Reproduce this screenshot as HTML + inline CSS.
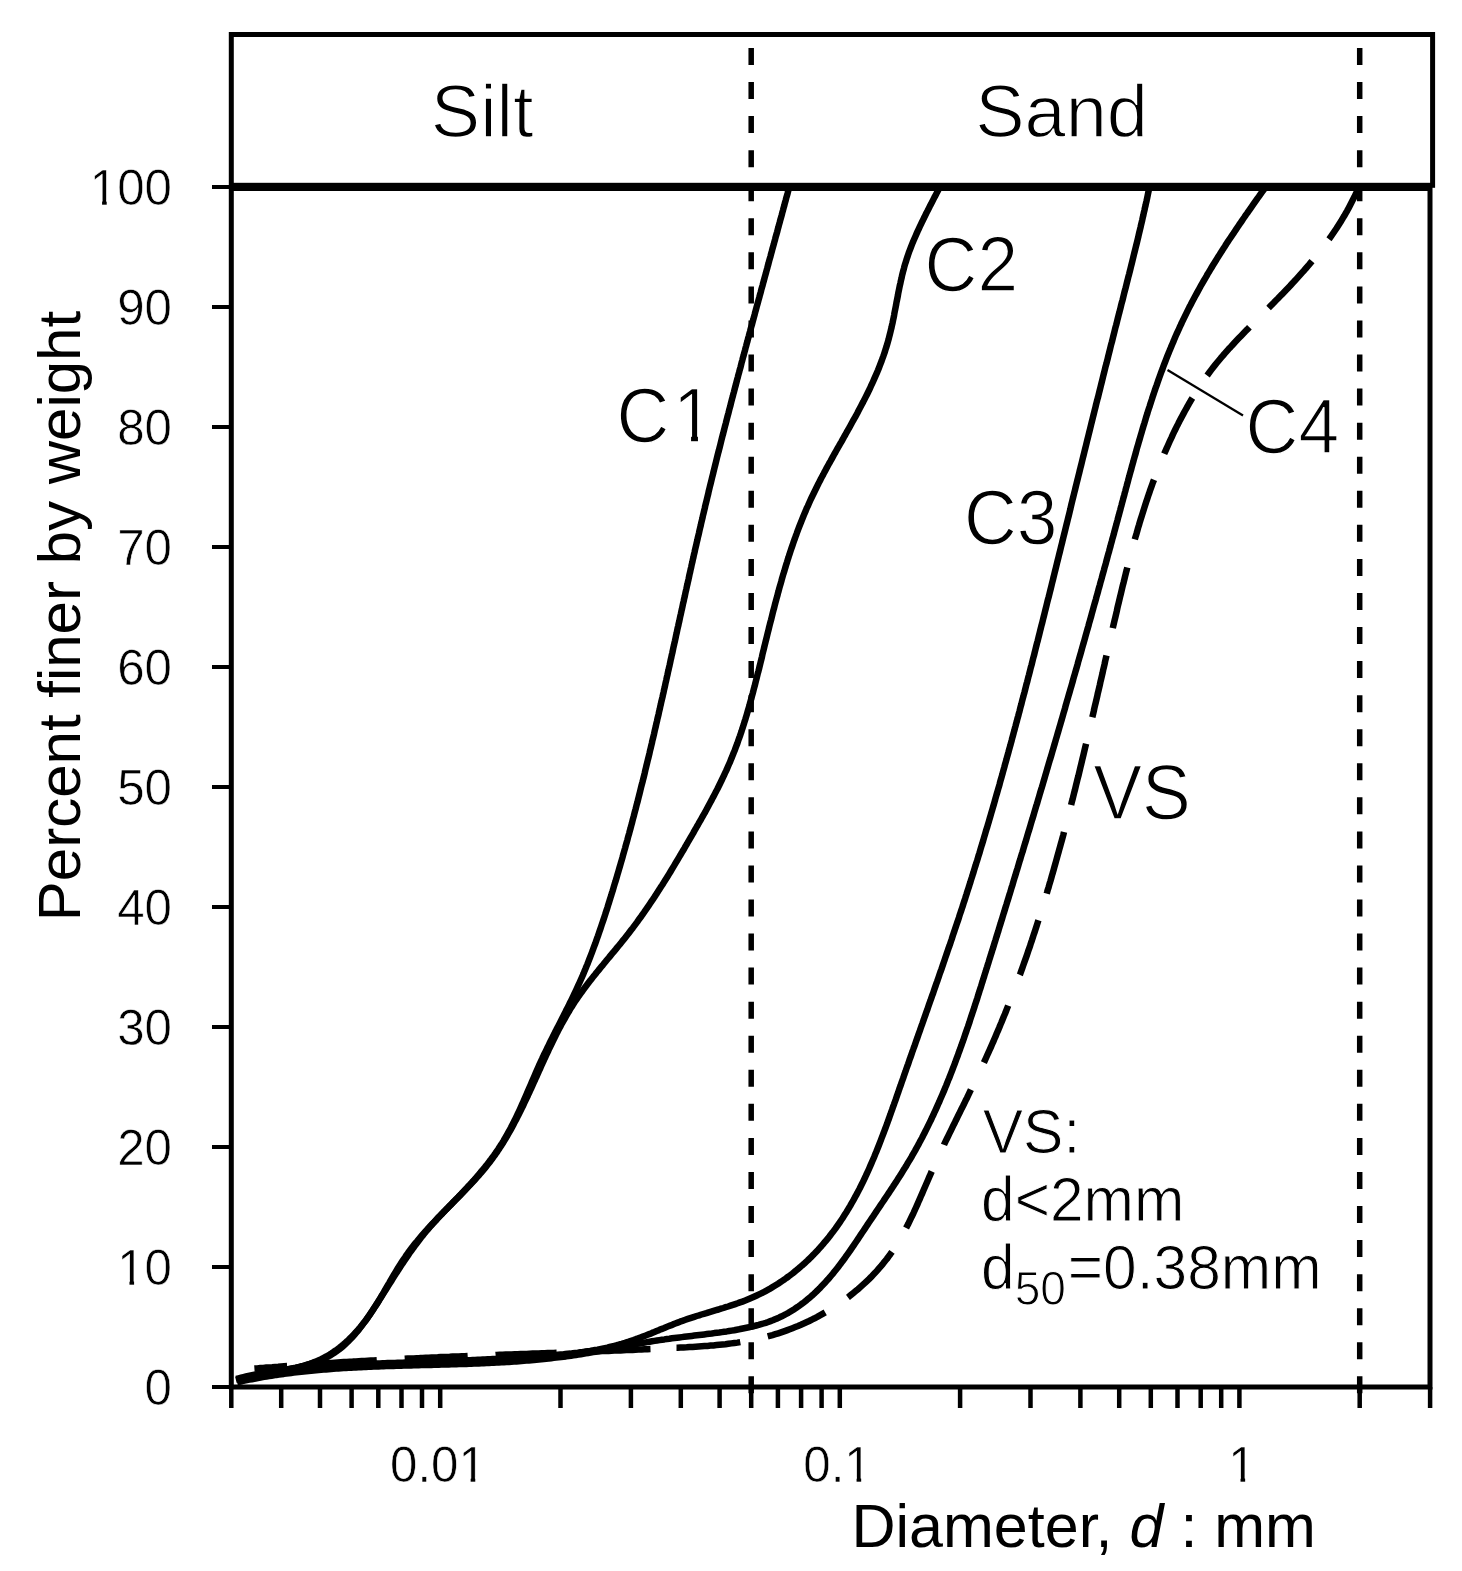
<!DOCTYPE html>
<html><head><meta charset="utf-8"><style>
html,body{margin:0;padding:0;background:#fff;}
svg{display:block;will-change:transform;}
text{font-family:"Liberation Sans",sans-serif;fill:#000;}
.tk{font-size:48px;}
.big{font-size:73px;}
.mid{font-size:60px;}
</style></head><body>
<svg width="1462" height="1571" viewBox="0 0 1462 1571" xmlns="http://www.w3.org/2000/svg">
<rect x="231.3" y="34.5" width="1201.3" height="150.8" fill="none" stroke="#000" stroke-width="5"/>
<rect x="231.3" y="188.5" width="1198.7" height="1198.5" fill="none" stroke="#000" stroke-width="5"/>
<line x1="212" y1="1387" x2="231" y2="1387" stroke="#000" stroke-width="4"/>
<text transform="translate(172.00,1404.50) scale(0.975,1)" font-size="50.5" text-anchor="end" stroke="#fff" stroke-width="0.6">0</text>
<line x1="212" y1="1267" x2="231" y2="1267" stroke="#000" stroke-width="4"/>
<text transform="translate(172.00,1284.50) scale(0.975,1)" font-size="50.5" text-anchor="end" stroke="#fff" stroke-width="0.6">10</text>
<line x1="212" y1="1147" x2="231" y2="1147" stroke="#000" stroke-width="4"/>
<text transform="translate(172.00,1164.50) scale(0.975,1)" font-size="50.5" text-anchor="end" stroke="#fff" stroke-width="0.6">20</text>
<line x1="212" y1="1027" x2="231" y2="1027" stroke="#000" stroke-width="4"/>
<text transform="translate(172.00,1044.50) scale(0.975,1)" font-size="50.5" text-anchor="end" stroke="#fff" stroke-width="0.6">30</text>
<line x1="212" y1="907" x2="231" y2="907" stroke="#000" stroke-width="4"/>
<text transform="translate(172.00,924.50) scale(0.975,1)" font-size="50.5" text-anchor="end" stroke="#fff" stroke-width="0.6">40</text>
<line x1="212" y1="787" x2="231" y2="787" stroke="#000" stroke-width="4"/>
<text transform="translate(172.00,804.50) scale(0.975,1)" font-size="50.5" text-anchor="end" stroke="#fff" stroke-width="0.6">50</text>
<line x1="212" y1="667" x2="231" y2="667" stroke="#000" stroke-width="4"/>
<text transform="translate(172.00,684.50) scale(0.975,1)" font-size="50.5" text-anchor="end" stroke="#fff" stroke-width="0.6">60</text>
<line x1="212" y1="547" x2="231" y2="547" stroke="#000" stroke-width="4"/>
<text transform="translate(172.00,564.50) scale(0.975,1)" font-size="50.5" text-anchor="end" stroke="#fff" stroke-width="0.6">70</text>
<line x1="212" y1="427" x2="231" y2="427" stroke="#000" stroke-width="4"/>
<text transform="translate(172.00,444.50) scale(0.975,1)" font-size="50.5" text-anchor="end" stroke="#fff" stroke-width="0.6">80</text>
<line x1="212" y1="307" x2="231" y2="307" stroke="#000" stroke-width="4"/>
<text transform="translate(172.00,324.50) scale(0.975,1)" font-size="50.5" text-anchor="end" stroke="#fff" stroke-width="0.6">90</text>
<line x1="212" y1="187" x2="231" y2="187" stroke="#000" stroke-width="4"/>
<text transform="translate(172.00,204.50) scale(0.975,1)" font-size="50.5" text-anchor="end" stroke="#fff" stroke-width="0.6">100</text>
<line x1="231.3" y1="1387" x2="231.3" y2="1408" stroke="#000" stroke-width="4.5"/>
<line x1="281.2" y1="1387" x2="281.2" y2="1408" stroke="#000" stroke-width="4.5"/>
<line x1="320.0" y1="1387" x2="320.0" y2="1408" stroke="#000" stroke-width="4.5"/>
<line x1="351.6" y1="1387" x2="351.6" y2="1408" stroke="#000" stroke-width="4.5"/>
<line x1="378.3" y1="1387" x2="378.3" y2="1408" stroke="#000" stroke-width="4.5"/>
<line x1="401.5" y1="1387" x2="401.5" y2="1408" stroke="#000" stroke-width="4.5"/>
<line x1="422.0" y1="1387" x2="422.0" y2="1408" stroke="#000" stroke-width="4.5"/>
<line x1="440.2" y1="1387" x2="440.2" y2="1408" stroke="#000" stroke-width="4.5"/>
<line x1="560.5" y1="1387" x2="560.5" y2="1408" stroke="#000" stroke-width="4.5"/>
<line x1="630.9" y1="1387" x2="630.9" y2="1408" stroke="#000" stroke-width="4.5"/>
<line x1="680.8" y1="1387" x2="680.8" y2="1408" stroke="#000" stroke-width="4.5"/>
<line x1="719.6" y1="1387" x2="719.6" y2="1408" stroke="#000" stroke-width="4.5"/>
<line x1="751.2" y1="1387" x2="751.2" y2="1408" stroke="#000" stroke-width="4.5"/>
<line x1="777.9" y1="1387" x2="777.9" y2="1408" stroke="#000" stroke-width="4.5"/>
<line x1="801.1" y1="1387" x2="801.1" y2="1408" stroke="#000" stroke-width="4.5"/>
<line x1="821.6" y1="1387" x2="821.6" y2="1408" stroke="#000" stroke-width="4.5"/>
<line x1="839.8" y1="1387" x2="839.8" y2="1408" stroke="#000" stroke-width="4.5"/>
<line x1="960.1" y1="1387" x2="960.1" y2="1408" stroke="#000" stroke-width="4.5"/>
<line x1="1030.5" y1="1387" x2="1030.5" y2="1408" stroke="#000" stroke-width="4.5"/>
<line x1="1080.4" y1="1387" x2="1080.4" y2="1408" stroke="#000" stroke-width="4.5"/>
<line x1="1119.2" y1="1387" x2="1119.2" y2="1408" stroke="#000" stroke-width="4.5"/>
<line x1="1150.8" y1="1387" x2="1150.8" y2="1408" stroke="#000" stroke-width="4.5"/>
<line x1="1177.5" y1="1387" x2="1177.5" y2="1408" stroke="#000" stroke-width="4.5"/>
<line x1="1200.7" y1="1387" x2="1200.7" y2="1408" stroke="#000" stroke-width="4.5"/>
<line x1="1221.2" y1="1387" x2="1221.2" y2="1408" stroke="#000" stroke-width="4.5"/>
<line x1="1239.4" y1="1387" x2="1239.4" y2="1408" stroke="#000" stroke-width="4.5"/>
<line x1="1359.7" y1="1387" x2="1359.7" y2="1408" stroke="#000" stroke-width="4.5"/>
<line x1="1430.1" y1="1387" x2="1430.1" y2="1408" stroke="#000" stroke-width="4.5"/>
<text transform="translate(437.90,1482.20) scale(0.975,1)" font-size="50.5" text-anchor="middle" stroke="#fff" stroke-width="0.6">0.01</text>
<text transform="translate(837.50,1482.20) scale(0.975,1)" font-size="50.5" text-anchor="middle" stroke="#fff" stroke-width="0.6">0.1</text>
<text transform="translate(1242.00,1482.20) scale(0.975,1)" font-size="50.5" text-anchor="middle" stroke="#fff" stroke-width="0.6">1</text>
<line x1="751.2" y1="48" x2="751.2" y2="1400" stroke="#000" stroke-width="5.5" stroke-dasharray="17 17.06"/>
<line x1="1359.7" y1="48" x2="1359.7" y2="1400" stroke="#000" stroke-width="5.5" stroke-dasharray="17 17.06"/>
<text transform="translate(430.80,137.00) scale(1.0,1)" font-size="74" text-anchor="start" stroke="#fff" stroke-width="1.4">Silt</text>
<text transform="translate(975.20,136.80) scale(1.0,1)" font-size="74" text-anchor="start" stroke="#fff" stroke-width="1.4">Sand</text>
<text transform="translate(616.60,441.70) scale(0.95,1)" font-size="77" text-anchor="start" stroke="#fff" stroke-width="1.4">C<tspan dx="3.7">1</tspan></text>
<text transform="translate(924.60,290.50) scale(0.95,1)" font-size="77" text-anchor="start" stroke="#fff" stroke-width="1.4">C2</text>
<text transform="translate(964.00,543.80) scale(0.95,1)" font-size="77" text-anchor="start" stroke="#fff" stroke-width="1.4">C3</text>
<text transform="translate(1245.60,452.50) scale(0.95,1)" font-size="77" text-anchor="start" stroke="#fff" stroke-width="1.4">C4</text>
<text transform="translate(1093.30,818.70) scale(0.95,1)" font-size="77" text-anchor="start" stroke="#fff" stroke-width="1.4">VS</text>
<text transform="translate(982.70,1153.00) scale(0.96,1)" font-size="63" text-anchor="start" stroke="#fff" stroke-width="1.0">VS:</text>
<text transform="translate(981.00,1221.00) scale(0.96,1)" font-size="63" text-anchor="start" stroke="#fff" stroke-width="1.0">d&lt;2mm</text>
<text transform="translate(981.00,1289.00) scale(0.96,1)" font-size="63" text-anchor="start" stroke="#fff" stroke-width="1.0">d<tspan dy="16" font-size="48">50</tspan><tspan dy="-16" dx="2">=0.38mm</tspan></text>
<text x="851.5" y="1547" font-size="61">Diameter, <tspan font-style="italic">d</tspan> : mm</text>
<text transform="translate(80,916.4) rotate(-90)" x="-4.8" y="0" font-size="60">Percent finer by weight</text>
<rect x="92.33" y="199.96" width="9.75" height="6.57" fill="#fff"/>
<rect x="106.71" y="199.96" width="9.85" height="6.57" fill="#fff"/>
<rect x="119.71" y="1279.95" width="9.75" height="6.57" fill="#fff"/>
<rect x="134.09" y="1279.95" width="9.85" height="6.57" fill="#fff"/>
<rect x="460.89" y="1477.45" width="9.75" height="6.57" fill="#fff"/>
<rect x="475.27" y="1477.45" width="9.85" height="6.57" fill="#fff"/>
<rect x="846.81" y="1477.45" width="9.75" height="6.57" fill="#fff"/>
<rect x="861.18" y="1477.45" width="9.85" height="6.57" fill="#fff"/>
<rect x="1230.77" y="1477.45" width="9.75" height="6.57" fill="#fff"/>
<rect x="1245.15" y="1477.45" width="9.85" height="6.57" fill="#fff"/>
<rect x="676.59" y="434.77" width="14.48" height="10.01" fill="#fff"/>
<rect x="697.95" y="434.77" width="14.63" height="10.01" fill="#fff"/>
<path d="M789.5,186.1L788.9,188.5 788.2,190.9 787.6,193.3 786.9,195.8 786.2,198.2 785.6,200.6 784.9,203.0 784.3,205.5 783.6,207.9 783.0,210.3 782.3,212.7 781.7,215.1 781.0,217.6 780.3,220.0 779.7,222.4 779.0,224.8 778.4,227.2 777.7,229.7 777.1,232.1 776.4,234.5 775.7,236.9 775.1,239.3 774.4,241.8 773.8,244.2 773.1,246.6 772.4,249.0 771.8,251.4 771.1,253.9 770.5,256.3 769.8,258.7 769.1,261.1 768.5,263.5 767.8,266.0 767.2,268.4 766.5,270.8 765.9,273.2 765.2,275.6 764.5,278.1 763.9,280.5 763.2,282.9 762.6,285.3 761.9,287.7 761.2,290.2 760.6,292.6 759.9,295.0 759.3,297.4 758.6,299.8 758.0,302.2 757.3,304.7 756.6,307.1 756.0,309.5 755.3,311.9 754.7,314.3 754.0,316.8 753.4,319.2 752.7,321.6 752.1,324.0 751.4,326.4 750.7,328.9 750.1,331.3 749.4,333.7 748.8,336.1 748.1,338.5 747.5,341.0 746.8,343.4 746.2,345.8 745.5,348.2 744.9,350.6 744.2,353.1 743.6,355.5 742.9,357.9 742.3,360.3 741.6,362.7 741.0,365.2 740.4,367.6 739.7,370.0 739.1,372.4 738.4,374.8 737.8,377.3 737.1,379.7 736.5,382.1 735.9,384.5 735.2,387.0 734.6,389.4 734.0,391.8 733.3,394.2 732.7,396.7 732.0,399.1 731.4,401.5 730.8,403.9 730.2,406.4 729.5,408.8 728.9,411.2 728.3,413.6 727.6,416.1 727.0,418.5 726.4,420.9 725.8,423.3 725.1,425.8 724.5,428.2 723.9,430.6 723.3,433.0 722.6,435.5 722.0,437.9 721.4,440.3 720.8,442.8 720.2,445.2 719.6,447.6 719.0,450.0 718.3,452.5 717.7,454.9 717.1,457.3 716.5,459.8 715.9,462.2 715.3,464.6 714.7,467.1 714.1,469.5 713.5,471.9 712.9,474.4 712.3,476.8 711.7,479.2 711.1,481.7 710.5,484.1 709.9,486.5 709.3,489.0 708.7,491.4 708.2,493.9 707.6,496.3 707.0,498.7 706.4,501.2 705.8,503.6 705.2,506.0 704.7,508.5 704.1,510.9 703.5,513.4 702.9,515.8 702.4,518.3 701.8,520.7 701.2,523.1 700.7,525.6 700.1,528.0 699.5,530.5 699.0,532.9 698.4,535.4 697.8,537.8 697.3,540.3 696.7,542.7 696.2,545.1 695.6,547.6 695.0,550.0 694.5,552.5 693.9,554.9 693.4,557.4 692.8,559.8 692.3,562.3 691.7,564.7 691.2,567.2 690.6,569.6 690.1,572.1 689.5,574.5 689.0,577.0 688.5,579.4 687.9,581.9 687.4,584.3 686.8,586.8 686.3,589.2 685.7,591.7 685.2,594.1 684.7,596.6 684.1,599.0 683.6,601.5 683.0,603.9 682.5,606.4 682.0,608.8 681.4,611.3 680.9,613.7 680.3,616.2 679.8,618.6 679.3,621.1 678.7,623.5 678.2,626.0 677.6,628.4 677.1,630.9 676.6,633.3 676.0,635.8 675.5,638.3 675.0,640.7 674.4,643.2 673.9,645.6 673.3,648.1 672.8,650.5 672.3,653.0 671.7,655.4 671.2,657.9 670.6,660.3 670.1,662.8 669.6,665.2 669.0,667.7 668.5,670.1 667.9,672.6 667.4,675.0 666.8,677.5 666.3,679.9 665.7,682.4 665.2,684.8 664.7,687.3 664.1,689.7 663.6,692.2 663.0,694.6 662.5,697.0 661.9,699.5 661.3,701.9 660.8,704.4 660.2,706.8 659.7,709.3 659.1,711.7 658.6,714.2 658.0,716.6 657.4,719.1 656.9,721.5 656.3,723.9 655.8,726.4 655.2,728.8 654.6,731.3 654.1,733.7 653.5,736.2 652.9,738.6 652.3,741.0 651.8,743.5 651.2,745.9 650.6,748.4 650.0,750.8 649.5,753.2 648.9,755.7 648.3,758.1 647.7,760.5 647.1,763.0 646.5,765.4 645.9,767.9 645.3,770.3 644.8,772.7 644.2,775.2 643.6,777.6 643.0,780.0 642.4,782.4 641.7,784.9 641.1,787.3 640.5,789.7 639.9,792.2 639.3,794.6 638.7,797.0 638.1,799.4 637.5,801.9 636.8,804.3 636.2,806.7 635.6,809.1 634.9,811.6 634.3,814.0 633.7,816.4 633.0,818.8 632.4,821.2 631.8,823.7 631.1,826.1 630.5,828.5 629.8,830.9 629.2,833.3 628.5,835.7 627.8,838.2 627.2,840.6 626.5,843.0 625.8,845.4 625.2,847.8 624.5,850.2 623.8,852.6 623.1,855.0 622.5,857.4 621.8,859.8 621.1,862.2 620.4,864.6 619.7,867.0 619.0,869.4 618.3,871.8 617.6,874.2 616.9,876.6 616.2,879.0 615.5,881.4 614.7,883.8 614.0,886.2 613.3,888.6 612.6,891.0 611.8,893.4 611.1,895.8 610.3,898.2 609.6,900.5 608.9,902.9 608.1,905.3 607.4,907.7 606.6,910.1 605.8,912.5 605.1,914.8 604.3,917.2 603.5,919.6 602.7,922.0 601.9,924.3 601.1,926.7 600.3,929.1 599.5,931.4 598.7,933.8 597.9,936.1 597.0,938.5 596.2,940.9 595.4,943.2 594.5,945.5 593.6,947.9 592.8,950.2 591.9,952.6 591.0,954.9 590.1,957.2 589.2,959.5 588.3,961.9 587.4,964.2 586.4,966.5 585.5,968.8 584.5,971.1 583.6,973.4 582.6,975.7 581.6,978.0 580.6,980.3 579.6,982.5 578.5,984.8 577.5,987.1 576.5,989.3 575.4,991.6 574.3,993.9 573.3,996.1 572.2,998.4 571.1,1000.6 570.0,1002.8 568.9,1005.1 567.8,1007.3 566.6,1009.5 565.5,1011.8 564.4,1014.0 563.3,1016.2 562.1,1018.5 561.0,1020.7 559.9,1022.9 558.7,1025.2 557.6,1027.4 556.4,1029.6 555.3,1031.8 554.2,1034.1 553.0,1036.3 551.9,1038.6 550.8,1040.8 549.7,1043.0 548.6,1045.3 547.5,1047.5 546.4,1049.8 545.3,1052.1 544.2,1054.3 543.1,1056.6 542.1,1058.9 541.0,1061.2 540.0,1063.4 538.9,1065.7 537.9,1068.0 536.9,1070.3 535.9,1072.6 534.9,1075.0 533.9,1077.3 532.9,1079.6 531.9,1081.9 530.9,1084.2 529.9,1086.5 528.9,1088.8 527.9,1091.1 526.9,1093.5 525.9,1095.8 524.9,1098.1 523.9,1100.4 522.9,1102.7 521.8,1105.0 520.8,1107.3 519.8,1109.5 518.7,1111.8 517.6,1114.1 516.6,1116.3 515.5,1118.6 514.4,1120.8 513.3,1123.1 512.1,1125.3 511.0,1127.5 509.8,1129.7 508.6,1131.9 507.4,1134.1 506.2,1136.3 504.9,1138.4 503.7,1140.6 502.4,1142.7 501.0,1144.8 499.7,1146.9 498.3,1149.0 496.9,1151.0 495.5,1153.1 494.1,1155.1 492.6,1157.1 491.1,1159.2 489.6,1161.1 488.1,1163.1 486.6,1165.1 485.0,1167.1 483.4,1169.0 481.8,1170.9 480.2,1172.9 478.6,1174.8 477.0,1176.7 475.3,1178.6 473.7,1180.5 472.0,1182.3 470.3,1184.2 468.6,1186.0 466.9,1187.9 465.2,1189.7 463.5,1191.6 461.7,1193.4 460.0,1195.2 458.3,1197.0 456.5,1198.8 454.8,1200.6 453.0,1202.4 451.3,1204.2 449.5,1206.0 447.8,1207.8 446.0,1209.6 444.3,1211.4 442.5,1213.2 440.8,1215.0 439.0,1216.8 437.3,1218.6 435.6,1220.4 433.9,1222.3 432.1,1224.1 430.4,1225.9 428.8,1227.8 427.1,1229.6 425.4,1231.5 423.7,1233.4 422.1,1235.2 420.5,1237.1 418.9,1239.0 417.3,1241.0 415.7,1242.9 414.1,1244.9 412.6,1246.8 411.1,1248.8 409.6,1250.8 408.1,1252.8 406.6,1254.9 405.2,1257.0 403.8,1259.0 402.4,1261.1 401.0,1263.3 399.7,1265.4 398.3,1267.5 397.0,1269.7 395.7,1271.9 394.4,1274.0 393.1,1276.2 391.8,1278.4 390.5,1280.6 389.3,1282.8 388.0,1285.0 386.7,1287.2 385.4,1289.4 384.2,1291.6 382.9,1293.8 381.6,1296.0 380.3,1298.1 379.0,1300.3 377.7,1302.5 376.4,1304.6 375.0,1306.7 373.7,1308.9 372.3,1311.0 370.9,1313.0 369.5,1315.1 368.0,1317.2 366.6,1319.2 365.1,1321.2 363.6,1323.1 362.0,1325.1 360.5,1327.0 358.9,1328.9 357.3,1330.8 355.6,1332.6 353.9,1334.4 352.3,1336.2 350.5,1337.9 348.8,1339.6 347.0,1341.3 345.2,1342.9 343.4,1344.5 341.5,1346.1 339.6,1347.6 337.7,1349.0 335.7,1350.5 333.7,1351.8 331.7,1353.2 329.7,1354.5 327.6,1355.7 325.5,1356.9 323.3,1358.1 321.2,1359.2 318.9,1360.2 316.7,1361.2 314.4,1362.1 312.1,1363.0 309.8,1363.9 307.4,1364.7 305.1,1365.5 302.7,1366.2 300.2,1366.9 297.8,1367.5 295.3,1368.2 292.9,1368.8 290.4,1369.3 287.9,1369.9 285.4,1370.4 282.8,1370.9 280.3,1371.4 277.8,1371.9 275.3,1372.3 272.7,1372.8 270.2,1373.2 267.7,1373.7 265.2,1374.1 262.6,1374.5 260.1,1375.0 257.6,1375.4 255.1,1375.8 252.7,1376.3 250.2,1376.8 247.8,1377.2 245.4,1377.7 243.0,1378.2 240.6,1378.8 238.2,1379.3 235.9,1379.9" fill="none" stroke="#000" stroke-width="6.5" stroke-linejoin="round" stroke-linecap="butt"/>
<path d="M940.2,186.2L939.0,188.5 937.9,190.7 936.8,192.9 935.6,195.2 934.4,197.4 933.3,199.6 932.1,201.9 931.0,204.1 929.8,206.3 928.7,208.6 927.6,210.8 926.4,213.0 925.3,215.3 924.2,217.5 923.1,219.8 922.0,222.0 920.9,224.3 919.8,226.6 918.8,228.8 917.7,231.1 916.7,233.4 915.7,235.7 914.7,238.0 913.7,240.3 912.7,242.6 911.8,244.9 910.9,247.2 910.0,249.6 909.1,251.9 908.3,254.2 907.5,256.6 906.7,259.0 906.0,261.4 905.2,263.7 904.5,266.1 903.9,268.6 903.2,271.0 902.6,273.4 902.0,275.8 901.5,278.3 900.9,280.7 900.4,283.2 899.8,285.6 899.3,288.1 898.8,290.6 898.3,293.0 897.9,295.5 897.4,298.0 896.9,300.5 896.4,302.9 896.0,305.4 895.5,307.9 895.0,310.4 894.5,312.8 894.1,315.3 893.6,317.8 893.1,320.2 892.6,322.7 892.0,325.2 891.5,327.6 890.9,330.0 890.3,332.5 889.7,334.9 889.1,337.3 888.5,339.7 887.8,342.1 887.1,344.5 886.4,346.9 885.6,349.3 884.9,351.6 884.1,354.0 883.3,356.3 882.4,358.7 881.6,361.0 880.7,363.3 879.8,365.7 878.9,368.0 878.0,370.3 877.0,372.6 876.0,374.8 875.0,377.1 874.0,379.4 873.0,381.7 872.0,383.9 870.9,386.2 869.9,388.5 868.8,390.7 867.7,393.0 866.6,395.2 865.5,397.4 864.3,399.7 863.2,401.9 862.0,404.1 860.9,406.3 859.7,408.5 858.5,410.8 857.4,413.0 856.2,415.2 855.0,417.4 853.7,419.6 852.5,421.8 851.3,424.0 850.1,426.2 848.9,428.4 847.6,430.6 846.4,432.8 845.2,435.0 843.9,437.2 842.7,439.4 841.5,441.6 840.2,443.7 839.0,445.9 837.7,448.1 836.5,450.3 835.3,452.5 834.0,454.7 832.8,456.9 831.6,459.1 830.4,461.3 829.1,463.5 827.9,465.7 826.7,467.9 825.5,470.2 824.3,472.4 823.2,474.6 822.0,476.8 820.8,479.0 819.7,481.3 818.5,483.5 817.4,485.7 816.3,488.0 815.2,490.2 814.1,492.5 813.0,494.7 811.9,497.0 810.8,499.2 809.8,501.5 808.8,503.8 807.8,506.1 806.7,508.3 805.8,510.6 804.8,512.9 803.8,515.2 802.9,517.5 801.9,519.9 801.0,522.2 800.1,524.5 799.2,526.8 798.3,529.2 797.4,531.5 796.6,533.8 795.7,536.2 794.9,538.5 794.0,540.9 793.2,543.2 792.4,545.6 791.6,547.9 790.8,550.3 790.0,552.7 789.2,555.1 788.5,557.4 787.7,559.8 787.0,562.2 786.2,564.6 785.5,567.0 784.8,569.4 784.1,571.8 783.3,574.2 782.6,576.6 781.9,579.0 781.3,581.4 780.6,583.8 779.9,586.2 779.2,588.6 778.6,591.0 777.9,593.4 777.3,595.9 776.6,598.3 776.0,600.7 775.3,603.1 774.7,605.5 774.1,608.0 773.4,610.4 772.8,612.8 772.2,615.3 771.6,617.7 771.0,620.1 770.3,622.6 769.7,625.0 769.1,627.4 768.5,629.9 767.9,632.3 767.3,634.7 766.7,637.2 766.1,639.6 765.5,642.1 764.9,644.5 764.3,646.9 763.7,649.4 763.1,651.8 762.5,654.2 762.0,656.7 761.4,659.1 760.8,661.6 760.2,664.0 759.6,666.4 759.0,668.9 758.4,671.3 757.7,673.7 757.1,676.2 756.5,678.6 755.9,681.0 755.3,683.4 754.7,685.9 754.0,688.3 753.4,690.7 752.8,693.1 752.1,695.5 751.5,698.0 750.8,700.4 750.1,702.8 749.5,705.2 748.8,707.6 748.1,710.0 747.4,712.4 746.7,714.8 746.0,717.2 745.3,719.5 744.5,721.9 743.8,724.3 743.0,726.7 742.2,729.1 741.5,731.4 740.7,733.8 739.9,736.1 739.0,738.5 738.2,740.8 737.4,743.2 736.5,745.5 735.6,747.9 734.8,750.2 733.8,752.5 732.9,754.8 732.0,757.1 731.0,759.4 730.1,761.8 729.1,764.0 728.1,766.3 727.1,768.6 726.1,770.9 725.0,773.2 724.0,775.4 722.9,777.7 721.8,780.0 720.7,782.2 719.6,784.5 718.5,786.7 717.4,789.0 716.2,791.2 715.1,793.4 713.9,795.7 712.7,797.9 711.6,800.1 710.4,802.3 709.2,804.5 708.0,806.8 706.8,809.0 705.6,811.2 704.4,813.4 703.1,815.6 701.9,817.8 700.7,820.0 699.4,822.1 698.2,824.3 696.9,826.5 695.7,828.7 694.4,830.9 693.2,833.1 691.9,835.3 690.7,837.4 689.4,839.6 688.1,841.8 686.9,844.0 685.6,846.1 684.4,848.3 683.1,850.5 681.8,852.6 680.6,854.8 679.3,856.9 678.0,859.1 676.7,861.2 675.4,863.4 674.2,865.5 672.9,867.7 671.6,869.8 670.3,872.0 669.0,874.1 667.7,876.2 666.3,878.4 665.0,880.5 663.7,882.6 662.4,884.7 661.0,886.8 659.7,888.9 658.3,891.0 657.0,893.1 655.6,895.2 654.3,897.3 652.9,899.4 651.5,901.4 650.1,903.5 648.7,905.6 647.3,907.6 645.9,909.7 644.5,911.7 643.1,913.8 641.6,915.8 640.2,917.8 638.7,919.8 637.3,921.9 635.8,923.9 634.3,925.9 632.8,927.9 631.3,929.8 629.8,931.8 628.3,933.8 626.7,935.8 625.2,937.7 623.6,939.7 622.0,941.6 620.5,943.6 618.9,945.5 617.3,947.4 615.7,949.4 614.1,951.3 612.5,953.2 610.9,955.1 609.3,957.1 607.7,959.0 606.1,960.9 604.6,962.8 603.0,964.8 601.4,966.7 599.8,968.6 598.2,970.6 596.6,972.5 595.1,974.5 593.5,976.4 592.0,978.4 590.4,980.3 588.9,982.3 587.4,984.3 585.9,986.3 584.4,988.3 582.9,990.3 581.5,992.3 580.0,994.3 578.6,996.3 577.2,998.4 575.8,1000.5 574.4,1002.5 573.1,1004.6 571.8,1006.7 570.4,1008.8 569.2,1011.0 567.9,1013.1 566.6,1015.2 565.4,1017.4 564.2,1019.6 562.9,1021.8 561.7,1023.9 560.6,1026.1 559.4,1028.3 558.2,1030.6 557.1,1032.8 555.9,1035.0 554.8,1037.3 553.7,1039.5 552.6,1041.7 551.5,1044.0 550.4,1046.3 549.3,1048.5 548.3,1050.8 547.2,1053.1 546.1,1055.4 545.1,1057.6 544.0,1059.9 543.0,1062.2 541.9,1064.5 540.9,1066.8 539.9,1069.1 538.8,1071.4 537.8,1073.7 536.8,1076.0 535.7,1078.3 534.7,1080.6 533.6,1082.9 532.6,1085.2 531.6,1087.5 530.5,1089.7 529.5,1092.0 528.4,1094.3 527.4,1096.6 526.3,1098.9 525.2,1101.1 524.1,1103.4 523.1,1105.7 522.0,1107.9 520.9,1110.2 519.8,1112.4 518.6,1114.7 517.5,1116.9 516.4,1119.1 515.2,1121.3 514.0,1123.5 512.9,1125.7 511.7,1127.9 510.5,1130.1 509.2,1132.3 508.0,1134.4 506.8,1136.6 505.5,1138.7 504.2,1140.8 502.9,1143.0 501.6,1145.1 500.2,1147.1 498.9,1149.2 497.5,1151.3 496.1,1153.3 494.7,1155.4 493.2,1157.4 491.8,1159.4 490.3,1161.4 488.8,1163.3 487.2,1165.3 485.7,1167.2 484.1,1169.2 482.5,1171.1 480.8,1173.0 479.2,1174.9 477.5,1176.7 475.9,1178.6 474.2,1180.5 472.5,1182.3 470.8,1184.2 469.0,1186.0 467.3,1187.8 465.6,1189.6 463.8,1191.4 462.1,1193.3 460.3,1195.1 458.5,1196.9 456.8,1198.7 455.0,1200.5 453.2,1202.3 451.5,1204.1 449.7,1205.9 447.9,1207.7 446.2,1209.5 444.4,1211.3 442.7,1213.1 440.9,1214.9 439.2,1216.8 437.5,1218.6 435.8,1220.5 434.1,1222.3 432.4,1224.2 430.7,1226.0 429.1,1227.9 427.5,1229.8 425.8,1231.7 424.3,1233.6 422.7,1235.6 421.1,1237.5 419.6,1239.5 418.1,1241.5 416.6,1243.5 415.1,1245.4 413.6,1247.5 412.2,1249.5 410.7,1251.5 409.3,1253.5 407.9,1255.6 406.5,1257.6 405.1,1259.7 403.7,1261.8 402.3,1263.8 400.9,1265.9 399.6,1268.0 398.2,1270.1 396.9,1272.2 395.5,1274.3 394.2,1276.4 392.8,1278.6 391.5,1280.7 390.2,1282.8 388.8,1284.9 387.5,1287.0 386.2,1289.2 384.8,1291.3 383.5,1293.4 382.1,1295.6 380.8,1297.7 379.4,1299.8 378.1,1302.0 376.7,1304.1 375.3,1306.2 373.9,1308.3 372.5,1310.5 371.1,1312.6 369.7,1314.7 368.3,1316.8 366.9,1318.8 365.4,1320.9 363.9,1322.9 362.4,1324.9 360.9,1326.9 359.4,1328.9 357.8,1330.8 356.2,1332.7 354.6,1334.6 353.0,1336.5 351.3,1338.3 349.6,1340.0 347.9,1341.7 346.1,1343.4 344.3,1345.1 342.5,1346.7 340.7,1348.2 338.8,1349.7 336.8,1351.1 334.9,1352.5 332.8,1353.8 330.8,1355.1 328.7,1356.3 326.5,1357.4 324.4,1358.5 322.1,1359.5 319.9,1360.5 317.6,1361.4 315.3,1362.2 312.9,1363.1 310.5,1363.8 308.1,1364.5 305.7,1365.2 303.2,1365.9 300.8,1366.5 298.3,1367.1 295.8,1367.7 293.3,1368.2 290.7,1368.7 288.2,1369.2 285.7,1369.7 283.1,1370.2 280.6,1370.7 278.0,1371.1 275.5,1371.6 273.0,1372.0 270.4,1372.5 267.9,1372.9 265.4,1373.4 262.9,1373.9 260.5,1374.3 258.0,1374.8 255.6,1375.4 253.2,1375.9 250.8,1376.5 248.4,1377.0 246.1,1377.7 243.8,1378.3 241.5,1379.0 239.3,1379.7 237.1,1380.5" fill="none" stroke="#000" stroke-width="6.5" stroke-linejoin="round" stroke-linecap="butt"/>
<path d="M1149.7,186.1L1149.2,188.5 1148.6,191.0 1148.1,193.4 1147.6,195.8 1147.1,198.3 1146.6,200.7 1146.0,203.2 1145.5,205.6 1144.9,208.0 1144.4,210.5 1143.8,212.9 1143.3,215.4 1142.7,217.8 1142.2,220.2 1141.6,222.7 1141.0,225.1 1140.5,227.5 1139.9,230.0 1139.3,232.4 1138.7,234.9 1138.2,237.3 1137.6,239.7 1137.0,242.2 1136.4,244.6 1135.8,247.0 1135.2,249.5 1134.6,251.9 1134.0,254.3 1133.4,256.8 1132.8,259.2 1132.2,261.7 1131.6,264.1 1131.0,266.5 1130.4,269.0 1129.8,271.4 1129.2,273.8 1128.5,276.3 1127.9,278.7 1127.3,281.1 1126.7,283.6 1126.1,286.0 1125.5,288.4 1124.8,290.9 1124.2,293.3 1123.6,295.7 1123.0,298.2 1122.4,300.6 1121.7,303.0 1121.1,305.4 1120.5,307.9 1119.9,310.3 1119.3,312.7 1118.6,315.2 1118.0,317.6 1117.4,320.0 1116.8,322.5 1116.2,324.9 1115.5,327.3 1114.9,329.7 1114.3,332.2 1113.7,334.6 1113.1,337.0 1112.5,339.5 1111.9,341.9 1111.2,344.3 1110.6,346.7 1110.0,349.2 1109.4,351.6 1108.8,354.0 1108.2,356.4 1107.6,358.9 1107.0,361.3 1106.4,363.7 1105.7,366.1 1105.1,368.6 1104.5,371.0 1103.9,373.4 1103.3,375.8 1102.7,378.3 1102.1,380.7 1101.5,383.1 1100.9,385.5 1100.3,388.0 1099.7,390.4 1099.1,392.8 1098.5,395.2 1097.9,397.7 1097.2,400.1 1096.6,402.5 1096.0,404.9 1095.4,407.4 1094.8,409.8 1094.2,412.2 1093.6,414.6 1093.0,417.1 1092.4,419.5 1091.8,421.9 1091.2,424.3 1090.6,426.8 1090.0,429.2 1089.4,431.6 1088.8,434.0 1088.2,436.5 1087.6,438.9 1087.0,441.3 1086.4,443.8 1085.8,446.2 1085.2,448.6 1084.6,451.0 1084.0,453.5 1083.4,455.9 1082.8,458.3 1082.2,460.7 1081.6,463.2 1081.0,465.6 1080.4,468.0 1079.8,470.4 1079.2,472.9 1078.6,475.3 1078.0,477.7 1077.4,480.1 1076.8,482.6 1076.2,485.0 1075.6,487.4 1075.0,489.9 1074.4,492.3 1073.8,494.7 1073.2,497.1 1072.6,499.6 1072.0,502.0 1071.4,504.4 1070.8,506.9 1070.3,509.3 1069.7,511.7 1069.1,514.2 1068.5,516.6 1067.9,519.0 1067.3,521.5 1066.7,523.9 1066.1,526.3 1065.5,528.8 1064.9,531.2 1064.3,533.6 1063.7,536.1 1063.1,538.5 1062.5,540.9 1061.9,543.4 1061.3,545.8 1060.7,548.2 1060.1,550.7 1059.5,553.1 1058.9,555.5 1058.3,558.0 1057.7,560.4 1057.1,562.8 1056.5,565.3 1055.9,567.7 1055.3,570.1 1054.7,572.6 1054.1,575.0 1053.5,577.4 1052.9,579.9 1052.3,582.3 1051.7,584.7 1051.1,587.2 1050.5,589.6 1049.9,592.1 1049.3,594.5 1048.7,596.9 1048.0,599.4 1047.4,601.8 1046.8,604.2 1046.2,606.7 1045.6,609.1 1045.0,611.5 1044.4,614.0 1043.8,616.4 1043.2,618.8 1042.6,621.3 1042.0,623.7 1041.3,626.2 1040.7,628.6 1040.1,631.0 1039.5,633.5 1038.9,635.9 1038.3,638.3 1037.7,640.8 1037.0,643.2 1036.4,645.6 1035.8,648.1 1035.2,650.5 1034.6,652.9 1034.0,655.4 1033.3,657.8 1032.7,660.2 1032.1,662.7 1031.5,665.1 1030.8,667.5 1030.2,670.0 1029.6,672.4 1029.0,674.8 1028.3,677.2 1027.7,679.7 1027.1,682.1 1026.4,684.5 1025.8,687.0 1025.2,689.4 1024.6,691.8 1023.9,694.3 1023.3,696.7 1022.6,699.1 1022.0,701.5 1021.4,704.0 1020.7,706.4 1020.1,708.8 1019.5,711.3 1018.8,713.7 1018.2,716.1 1017.5,718.5 1016.9,721.0 1016.2,723.4 1015.6,725.8 1014.9,728.2 1014.3,730.7 1013.6,733.1 1013.0,735.5 1012.3,737.9 1011.7,740.3 1011.0,742.8 1010.4,745.2 1009.7,747.6 1009.0,750.0 1008.4,752.4 1007.7,754.9 1007.0,757.3 1006.4,759.7 1005.7,762.1 1005.0,764.5 1004.4,766.9 1003.7,769.4 1003.0,771.8 1002.4,774.2 1001.7,776.6 1001.0,779.0 1000.3,781.4 999.7,783.8 999.0,786.3 998.3,788.7 997.6,791.1 996.9,793.5 996.2,795.9 995.5,798.3 994.9,800.7 994.2,803.1 993.5,805.5 992.8,807.9 992.1,810.3 991.4,812.7 990.7,815.1 990.0,817.5 989.3,819.9 988.6,822.3 987.9,824.7 987.2,827.1 986.4,829.5 985.7,831.9 985.0,834.3 984.3,836.7 983.6,839.1 982.9,841.5 982.2,843.9 981.4,846.3 980.7,848.7 980.0,851.1 979.3,853.5 978.5,855.9 977.8,858.3 977.1,860.7 976.3,863.0 975.6,865.4 974.8,867.8 974.1,870.2 973.4,872.6 972.6,875.0 971.9,877.3 971.1,879.7 970.4,882.1 969.6,884.5 968.9,886.9 968.1,889.2 967.3,891.6 966.6,894.0 965.8,896.4 965.1,898.7 964.3,901.1 963.5,903.5 962.8,905.9 962.0,908.2 961.2,910.6 960.4,913.0 959.6,915.3 958.9,917.7 958.1,920.1 957.3,922.4 956.5,924.8 955.7,927.1 954.9,929.5 954.1,931.9 953.3,934.2 952.5,936.6 951.8,939.0 951.0,941.3 950.2,943.7 949.4,946.0 948.5,948.4 947.7,950.7 946.9,953.1 946.1,955.5 945.3,957.8 944.5,960.2 943.7,962.5 942.9,964.9 942.1,967.2 941.3,969.6 940.4,972.0 939.6,974.3 938.8,976.7 938.0,979.0 937.2,981.4 936.3,983.7 935.5,986.1 934.7,988.4 933.9,990.8 933.1,993.2 932.2,995.5 931.4,997.9 930.6,1000.2 929.7,1002.6 928.9,1004.9 928.1,1007.3 927.3,1009.7 926.4,1012.0 925.6,1014.4 924.8,1016.7 923.9,1019.1 923.1,1021.5 922.3,1023.8 921.4,1026.2 920.6,1028.5 919.8,1030.9 918.9,1033.3 918.1,1035.6 917.3,1038.0 916.4,1040.4 915.6,1042.7 914.8,1045.1 913.9,1047.5 913.1,1049.8 912.2,1052.2 911.4,1054.6 910.6,1057.0 909.7,1059.3 908.9,1061.7 908.1,1064.1 907.2,1066.5 906.4,1068.8 905.6,1071.2 904.7,1073.6 903.9,1076.0 903.1,1078.4 902.2,1080.8 901.4,1083.1 900.6,1085.5 899.7,1087.9 898.9,1090.3 898.1,1092.7 897.2,1095.1 896.4,1097.5 895.6,1099.9 894.7,1102.3 893.9,1104.6 893.0,1107.0 892.2,1109.4 891.3,1111.8 890.5,1114.2 889.6,1116.6 888.8,1119.0 887.9,1121.4 887.1,1123.7 886.2,1126.1 885.3,1128.5 884.4,1130.9 883.5,1133.2 882.6,1135.6 881.7,1137.9 880.8,1140.3 879.9,1142.7 879.0,1145.0 878.1,1147.3 877.1,1149.7 876.2,1152.0 875.2,1154.3 874.3,1156.7 873.3,1159.0 872.3,1161.3 871.3,1163.6 870.3,1165.9 869.3,1168.2 868.3,1170.5 867.3,1172.7 866.2,1175.0 865.2,1177.3 864.1,1179.5 863.0,1181.8 861.9,1184.0 860.8,1186.2 859.7,1188.5 858.5,1190.7 857.4,1192.9 856.2,1195.1 855.0,1197.2 853.9,1199.4 852.6,1201.6 851.4,1203.7 850.2,1205.9 848.9,1208.0 847.6,1210.1 846.4,1212.2 845.0,1214.3 843.7,1216.4 842.4,1218.5 841.0,1220.5 839.6,1222.6 838.2,1224.6 836.8,1226.6 835.4,1228.6 833.9,1230.6 832.4,1232.6 830.9,1234.5 829.4,1236.5 827.9,1238.4 826.3,1240.3 824.7,1242.2 823.1,1244.1 821.5,1246.0 819.8,1247.9 818.2,1249.7 816.5,1251.5 814.8,1253.3 813.0,1255.1 811.3,1256.9 809.5,1258.6 807.7,1260.4 805.8,1262.1 804.0,1263.8 802.1,1265.4 800.2,1267.1 798.3,1268.7 796.4,1270.3 794.4,1271.9 792.5,1273.5 790.5,1275.0 788.5,1276.5 786.4,1278.0 784.4,1279.5 782.3,1280.9 780.2,1282.3 778.1,1283.7 776.0,1285.0 773.9,1286.3 771.7,1287.6 769.6,1288.9 767.4,1290.1 765.2,1291.3 763.0,1292.5 760.7,1293.6 758.5,1294.7 756.2,1295.8 754.0,1296.8 751.7,1297.8 749.4,1298.8 747.0,1299.8 744.7,1300.7 742.4,1301.6 740.0,1302.4 737.6,1303.3 735.3,1304.1 732.9,1304.9 730.5,1305.7 728.1,1306.5 725.7,1307.2 723.3,1308.0 720.9,1308.7 718.5,1309.5 716.0,1310.2 713.6,1310.9 711.2,1311.6 708.8,1312.3 706.4,1313.1 703.9,1313.8 701.5,1314.5 699.1,1315.3 696.7,1316.0 694.3,1316.8 691.9,1317.6 689.5,1318.4 687.1,1319.2 684.8,1320.0 682.4,1320.9 680.0,1321.7 677.7,1322.6 675.3,1323.5 673.0,1324.4 670.7,1325.4 668.3,1326.3 666.0,1327.2 663.7,1328.2 661.4,1329.1 659.1,1330.1 656.7,1331.0 654.4,1332.0 652.1,1332.9 649.8,1333.9 647.5,1334.8 645.2,1335.7 642.8,1336.6 640.5,1337.5 638.2,1338.4 635.8,1339.2 633.5,1340.1 631.2,1340.9 628.8,1341.7 626.4,1342.4 624.1,1343.2 621.7,1343.9 619.3,1344.5 616.9,1345.2 614.5,1345.8 612.1,1346.4 609.7,1347.0 607.3,1347.6 604.9,1348.1 602.4,1348.6 600.0,1349.1 597.5,1349.6 595.1,1350.0 592.6,1350.4 590.2,1350.9 587.7,1351.2 585.2,1351.6 582.8,1352.0 580.3,1352.3 577.8,1352.7 575.3,1353.0 572.8,1353.3 570.4,1353.6 567.9,1353.8 565.4,1354.1 562.9,1354.4 560.4,1354.6 557.9,1354.8 555.4,1355.1 552.9,1355.3 550.4,1355.5 547.8,1355.7 545.3,1355.9 542.8,1356.0 540.3,1356.2 537.8,1356.4 535.3,1356.6 532.8,1356.7 530.3,1356.9 527.8,1357.1 525.3,1357.2 522.7,1357.4 520.2,1357.5 517.7,1357.7 515.2,1357.8 512.7,1358.0 510.2,1358.1 507.7,1358.3 505.2,1358.4 502.7,1358.5 500.2,1358.7 497.7,1358.8 495.2,1359.0 492.7,1359.1 490.2,1359.2 487.7,1359.3 485.2,1359.5 482.7,1359.6 480.2,1359.7 477.7,1359.8 475.2,1360.0 472.7,1360.1 470.2,1360.2 467.7,1360.3 465.2,1360.4 462.7,1360.5 460.2,1360.6 457.7,1360.7 455.2,1360.8 452.7,1360.9 450.2,1361.0 447.7,1361.1 445.2,1361.2 442.7,1361.3 440.2,1361.4 437.7,1361.5 435.2,1361.6 432.7,1361.7 430.2,1361.8 427.6,1361.9 425.1,1362.0 422.6,1362.1 420.1,1362.1 417.6,1362.2 415.1,1362.3 412.6,1362.4 410.1,1362.5 407.6,1362.5 405.1,1362.6 402.6,1362.7 400.1,1362.8 397.6,1362.8 395.0,1362.9 392.5,1363.0 390.0,1363.1 387.5,1363.1 385.0,1363.2 382.5,1363.3 380.0,1363.4 377.5,1363.4 374.9,1363.5 372.4,1363.6 369.9,1363.7 367.4,1363.8 364.9,1363.8 362.4,1363.9 359.9,1364.0 357.4,1364.1 354.8,1364.2 352.3,1364.3 349.8,1364.4 347.3,1364.6 344.8,1364.7 342.3,1364.8 339.8,1364.9 337.3,1365.1 334.8,1365.2 332.3,1365.4 329.8,1365.5 327.3,1365.7 324.8,1365.8 322.3,1366.0 319.8,1366.2 317.3,1366.4 314.8,1366.6 312.3,1366.8 309.8,1367.0 307.3,1367.2 304.9,1367.5 302.4,1367.7 299.9,1368.0 297.4,1368.2 294.9,1368.5 292.5,1368.8 290.0,1369.1 287.5,1369.4 285.1,1369.7 282.6,1370.0 280.1,1370.4 277.7,1370.7 275.2,1371.1 272.8,1371.5 270.3,1371.9 267.9,1372.3 265.4,1372.7 263.0,1373.1 260.5,1373.6 258.1,1374.0 255.7,1374.5 253.2,1375.0 250.8,1375.5 248.4,1376.0 246.0,1376.5 243.5,1377.1 241.1,1377.7 238.7,1378.3 236.3,1378.9" fill="none" stroke="#000" stroke-width="6.5" stroke-linejoin="round" stroke-linecap="butt"/>
<path d="M1265.9,186.6L1264.5,188.6 1263.1,190.6 1261.6,192.6 1260.2,194.6 1258.8,196.6 1257.3,198.6 1255.9,200.7 1254.5,202.7 1253.1,204.7 1251.6,206.8 1250.2,208.8 1248.8,210.8 1247.4,212.9 1245.9,214.9 1244.5,217.0 1243.1,219.0 1241.7,221.1 1240.3,223.2 1238.9,225.2 1237.5,227.3 1236.1,229.4 1234.7,231.5 1233.3,233.6 1231.9,235.6 1230.5,237.7 1229.1,239.8 1227.7,241.9 1226.3,244.0 1225.0,246.2 1223.6,248.3 1222.3,250.4 1220.9,252.5 1219.6,254.6 1218.2,256.8 1216.9,258.9 1215.6,261.0 1214.2,263.2 1212.9,265.3 1211.6,267.5 1210.3,269.6 1209.0,271.8 1207.7,273.9 1206.5,276.1 1205.2,278.3 1203.9,280.5 1202.7,282.6 1201.4,284.8 1200.2,287.0 1199.0,289.2 1197.8,291.4 1196.6,293.6 1195.4,295.8 1194.2,298.0 1193.0,300.2 1191.8,302.5 1190.7,304.7 1189.5,306.9 1188.4,309.1 1187.3,311.4 1186.2,313.6 1185.1,315.9 1184.0,318.1 1182.9,320.4 1181.8,322.6 1180.8,324.9 1179.7,327.2 1178.7,329.5 1177.7,331.7 1176.6,334.0 1175.6,336.3 1174.6,338.6 1173.7,340.9 1172.7,343.2 1171.7,345.5 1170.8,347.8 1169.8,350.1 1168.9,352.4 1167.9,354.7 1167.0,357.0 1166.1,359.4 1165.2,361.7 1164.3,364.0 1163.4,366.4 1162.6,368.7 1161.7,371.0 1160.8,373.4 1160.0,375.7 1159.1,378.1 1158.3,380.4 1157.5,382.8 1156.7,385.1 1155.8,387.5 1155.0,389.9 1154.2,392.2 1153.4,394.6 1152.6,397.0 1151.9,399.3 1151.1,401.7 1150.3,404.1 1149.6,406.5 1148.8,408.8 1148.0,411.2 1147.3,413.6 1146.5,416.0 1145.8,418.4 1145.1,420.8 1144.4,423.2 1143.6,425.6 1142.9,428.0 1142.2,430.4 1141.5,432.8 1140.8,435.2 1140.1,437.6 1139.4,440.0 1138.7,442.4 1138.0,444.8 1137.3,447.2 1136.6,449.6 1136.0,452.0 1135.3,454.5 1134.6,456.9 1133.9,459.3 1133.3,461.7 1132.6,464.1 1131.9,466.5 1131.3,469.0 1130.6,471.4 1129.9,473.8 1129.3,476.2 1128.6,478.6 1128.0,481.1 1127.3,483.5 1126.7,485.9 1126.0,488.3 1125.4,490.8 1124.7,493.2 1124.1,495.6 1123.4,498.0 1122.8,500.4 1122.1,502.9 1121.5,505.3 1120.8,507.7 1120.2,510.1 1119.5,512.6 1118.9,515.0 1118.2,517.4 1117.6,519.8 1116.9,522.3 1116.3,524.7 1115.6,527.1 1115.0,529.5 1114.3,531.9 1113.7,534.4 1113.0,536.8 1112.3,539.2 1111.7,541.6 1111.0,544.0 1110.4,546.5 1109.7,548.9 1109.1,551.3 1108.4,553.7 1107.7,556.1 1107.1,558.5 1106.4,561.0 1105.8,563.4 1105.1,565.8 1104.4,568.2 1103.8,570.6 1103.1,573.0 1102.4,575.5 1101.8,577.9 1101.1,580.3 1100.4,582.7 1099.8,585.1 1099.1,587.5 1098.4,589.9 1097.8,592.4 1097.1,594.8 1096.4,597.2 1095.8,599.6 1095.1,602.0 1094.4,604.4 1093.7,606.8 1093.1,609.2 1092.4,611.6 1091.7,614.1 1091.1,616.5 1090.4,618.9 1089.7,621.3 1089.0,623.7 1088.4,626.1 1087.7,628.5 1087.0,630.9 1086.3,633.3 1085.6,635.8 1085.0,638.2 1084.3,640.6 1083.6,643.0 1082.9,645.4 1082.2,647.8 1081.6,650.2 1080.9,652.6 1080.2,655.0 1079.5,657.4 1078.8,659.8 1078.1,662.2 1077.5,664.6 1076.8,667.1 1076.1,669.5 1075.4,671.9 1074.7,674.3 1074.0,676.7 1073.3,679.1 1072.7,681.5 1072.0,683.9 1071.3,686.3 1070.6,688.7 1069.9,691.1 1069.2,693.5 1068.5,695.9 1067.8,698.3 1067.1,700.7 1066.4,703.1 1065.7,705.5 1065.1,707.9 1064.4,710.3 1063.7,712.7 1063.0,715.2 1062.3,717.6 1061.6,720.0 1060.9,722.4 1060.2,724.8 1059.5,727.2 1058.8,729.6 1058.1,732.0 1057.4,734.4 1056.7,736.8 1056.0,739.2 1055.3,741.6 1054.6,744.0 1053.9,746.4 1053.2,748.8 1052.5,751.2 1051.8,753.6 1051.1,756.0 1050.4,758.4 1049.6,760.8 1048.9,763.2 1048.2,765.6 1047.5,768.0 1046.8,770.4 1046.1,772.8 1045.4,775.2 1044.7,777.6 1044.0,780.0 1043.3,782.4 1042.6,784.8 1041.9,787.2 1041.1,789.6 1040.4,792.0 1039.7,794.4 1039.0,796.8 1038.3,799.2 1037.6,801.6 1036.9,804.0 1036.1,806.4 1035.4,808.8 1034.7,811.2 1034.0,813.6 1033.3,816.0 1032.6,818.4 1031.8,820.8 1031.1,823.2 1030.4,825.6 1029.7,828.0 1029.0,830.4 1028.2,832.8 1027.5,835.2 1026.8,837.6 1026.1,840.0 1025.4,842.4 1024.6,844.8 1023.9,847.2 1023.2,849.6 1022.5,852.0 1021.7,854.3 1021.0,856.7 1020.3,859.1 1019.5,861.5 1018.8,863.9 1018.1,866.3 1017.4,868.7 1016.6,871.1 1015.9,873.5 1015.2,875.9 1014.4,878.3 1013.7,880.7 1013.0,883.1 1012.3,885.5 1011.5,887.9 1010.8,890.3 1010.1,892.7 1009.3,895.1 1008.6,897.5 1007.9,899.9 1007.1,902.3 1006.4,904.7 1005.6,907.1 1004.9,909.5 1004.2,911.9 1003.4,914.3 1002.7,916.7 1002.0,919.1 1001.2,921.5 1000.5,923.9 999.7,926.3 999.0,928.7 998.3,931.1 997.5,933.5 996.8,935.9 996.0,938.3 995.3,940.7 994.5,943.1 993.8,945.5 993.1,947.9 992.3,950.3 991.6,952.6 990.8,955.0 990.1,957.4 989.3,959.8 988.6,962.2 987.8,964.6 987.1,967.0 986.3,969.4 985.6,971.8 984.8,974.2 984.1,976.6 983.3,979.0 982.6,981.4 981.8,983.8 981.1,986.2 980.3,988.6 979.5,991.0 978.8,993.4 978.0,995.8 977.3,998.2 976.5,1000.6 975.7,1003.0 974.9,1005.4 974.2,1007.8 973.4,1010.1 972.6,1012.5 971.8,1014.9 971.0,1017.3 970.2,1019.7 969.5,1022.1 968.7,1024.4 967.9,1026.8 967.0,1029.2 966.2,1031.6 965.4,1033.9 964.6,1036.3 963.8,1038.7 963.0,1041.0 962.1,1043.4 961.3,1045.8 960.4,1048.1 959.6,1050.5 958.7,1052.8 957.9,1055.2 957.0,1057.5 956.1,1059.9 955.3,1062.2 954.4,1064.6 953.5,1066.9 952.6,1069.2 951.7,1071.6 950.8,1073.9 949.9,1076.2 949.0,1078.5 948.0,1080.8 947.1,1083.2 946.2,1085.5 945.2,1087.8 944.3,1090.1 943.3,1092.4 942.3,1094.7 941.3,1097.0 940.3,1099.3 939.4,1101.5 938.3,1103.8 937.3,1106.1 936.3,1108.4 935.3,1110.6 934.2,1112.9 933.2,1115.2 932.1,1117.4 931.1,1119.7 930.0,1121.9 928.9,1124.1 927.8,1126.4 926.7,1128.6 925.6,1130.8 924.5,1133.0 923.3,1135.3 922.2,1137.5 921.0,1139.7 919.8,1141.9 918.7,1144.1 917.5,1146.3 916.3,1148.4 915.1,1150.6 913.8,1152.8 912.6,1154.9 911.4,1157.1 910.1,1159.3 908.8,1161.4 907.5,1163.5 906.3,1165.7 905.0,1167.8 903.6,1169.9 902.3,1172.1 901.0,1174.2 899.7,1176.3 898.3,1178.4 897.0,1180.5 895.6,1182.6 894.2,1184.7 892.9,1186.8 891.5,1188.9 890.1,1191.0 888.7,1193.1 887.3,1195.2 885.9,1197.3 884.5,1199.4 883.1,1201.5 881.7,1203.5 880.3,1205.6 878.9,1207.7 877.5,1209.8 876.1,1211.9 874.7,1214.0 873.3,1216.1 871.9,1218.1 870.5,1220.2 869.1,1222.3 867.7,1224.4 866.3,1226.5 864.9,1228.6 863.5,1230.7 862.1,1232.8 860.7,1234.9 859.3,1237.0 857.9,1239.1 856.5,1241.2 855.1,1243.3 853.7,1245.4 852.3,1247.4 850.9,1249.5 849.4,1251.6 848.0,1253.6 846.5,1255.7 845.1,1257.7 843.6,1259.7 842.1,1261.7 840.6,1263.8 839.1,1265.7 837.6,1267.7 836.0,1269.7 834.5,1271.6 832.9,1273.6 831.3,1275.5 829.7,1277.4 828.1,1279.3 826.4,1281.1 824.7,1283.0 823.0,1284.8 821.3,1286.6 819.6,1288.4 817.8,1290.1 816.0,1291.9 814.2,1293.6 812.4,1295.2 810.5,1296.9 808.6,1298.5 806.7,1300.1 804.7,1301.7 802.8,1303.2 800.8,1304.7 798.8,1306.1 796.7,1307.5 794.7,1308.9 792.6,1310.2 790.5,1311.5 788.4,1312.8 786.2,1314.0 784.0,1315.2 781.8,1316.3 779.6,1317.3 777.4,1318.4 775.1,1319.3 772.8,1320.3 770.5,1321.1 768.2,1322.0 765.8,1322.8 763.5,1323.5 761.1,1324.2 758.7,1324.9 756.3,1325.5 753.8,1326.2 751.4,1326.7 749.0,1327.3 746.5,1327.8 744.1,1328.3 741.6,1328.8 739.1,1329.3 736.7,1329.7 734.2,1330.2 731.7,1330.6 729.2,1331.0 726.8,1331.4 724.3,1331.7 721.8,1332.1 719.3,1332.5 716.8,1332.8 714.3,1333.1 711.8,1333.5 709.3,1333.8 706.8,1334.1 704.3,1334.4 701.8,1334.7 699.3,1335.0 696.8,1335.3 694.3,1335.6 691.8,1335.9 689.3,1336.2 686.8,1336.5 684.3,1336.8 681.9,1337.1 679.4,1337.4 676.9,1337.7 674.4,1338.0 671.9,1338.3 669.4,1338.7 666.9,1339.0 664.4,1339.4 661.9,1339.7 659.5,1340.1 657.0,1340.5 654.5,1340.9 652.0,1341.3 649.6,1341.7 647.1,1342.1 644.6,1342.6 642.2,1343.0 639.7,1343.4 637.3,1343.9 634.8,1344.3 632.3,1344.8 629.9,1345.3 627.4,1345.7 625.0,1346.2 622.5,1346.6 620.1,1347.1 617.6,1347.6 615.2,1348.0 612.7,1348.5 610.3,1349.0 607.8,1349.4 605.3,1349.9 602.9,1350.3 600.4,1350.8 598.0,1351.2 595.5,1351.7 593.1,1352.1 590.6,1352.6 588.2,1353.0 585.7,1353.4 583.3,1353.8 580.8,1354.2 578.3,1354.6 575.9,1355.0 573.4,1355.3 571.0,1355.7 568.5,1356.0 566.0,1356.4 563.5,1356.7 561.1,1357.0 558.6,1357.3 556.1,1357.6 553.7,1357.9 551.2,1358.2 548.7,1358.5 546.2,1358.7 543.7,1359.0 541.3,1359.3 538.8,1359.5 536.3,1359.7 533.8,1360.0 531.3,1360.2 528.8,1360.4 526.4,1360.6 523.9,1360.8 521.4,1361.0 518.9,1361.2 516.4,1361.4 513.9,1361.5 511.4,1361.7 508.9,1361.9 506.4,1362.0 503.9,1362.2 501.4,1362.3 498.9,1362.4 496.4,1362.6 493.9,1362.7 491.4,1362.8 488.9,1363.0 486.4,1363.1 483.9,1363.2 481.4,1363.3 478.9,1363.4 476.4,1363.5 473.9,1363.6 471.4,1363.7 468.9,1363.8 466.4,1363.9 463.9,1363.9 461.4,1364.0 458.9,1364.1 456.4,1364.2 453.9,1364.3 451.3,1364.3 448.8,1364.4 446.3,1364.5 443.8,1364.5 441.3,1364.6 438.8,1364.7 436.3,1364.7 433.8,1364.8 431.3,1364.9 428.8,1364.9 426.2,1365.0 423.7,1365.1 421.2,1365.1 418.7,1365.2 416.2,1365.3 413.7,1365.3 411.2,1365.4 408.7,1365.5 406.2,1365.5 403.7,1365.6 401.1,1365.7 398.6,1365.7 396.1,1365.8 393.6,1365.9 391.1,1366.0 388.6,1366.1 386.1,1366.1 383.6,1366.2 381.1,1366.3 378.6,1366.4 376.1,1366.5 373.6,1366.6 371.0,1366.7 368.5,1366.8 366.0,1366.9 363.5,1367.0 361.0,1367.2 358.5,1367.3 356.0,1367.4 353.5,1367.5 351.0,1367.7 348.5,1367.8 346.0,1368.0 343.5,1368.1 341.0,1368.3 338.5,1368.4 336.0,1368.6 333.5,1368.8 331.0,1369.0 328.5,1369.2 326.0,1369.4 323.6,1369.6 321.1,1369.8 318.6,1370.0 316.1,1370.2 313.6,1370.4 311.1,1370.7 308.6,1370.9 306.1,1371.2 303.7,1371.4 301.2,1371.7 298.7,1372.0 296.2,1372.3 293.7,1372.6 291.2,1372.9 288.8,1373.2 286.3,1373.5 283.8,1373.9 281.3,1374.2 278.9,1374.6 276.4,1374.9 273.9,1375.3 271.5,1375.7 269.0,1376.1 266.5,1376.5 264.1,1376.9 261.6,1377.3 259.2,1377.8 256.7,1378.2 254.2,1378.7 251.8,1379.2 249.3,1379.6 246.9,1380.1 244.4,1380.6 242.0,1381.2 239.5,1381.7 237.1,1382.3" fill="none" stroke="#000" stroke-width="6.5" stroke-linejoin="round" stroke-linecap="butt"/>
<path d="M1359.3,185.8L1358.1,188.7 1356.9,191.5 1355.6,194.3 1354.3,197.1 1352.9,199.8 1351.5,202.5 1350.1,205.2 1348.7,207.9 1347.3,210.6 1345.8,213.2 1344.3,215.8 1342.7,218.4 1341.2,221.0 1339.6,223.5 1338.0,226.0 1336.4,228.5 1334.7,231.0 1333.0,233.5 1331.3,236.0 1329.6,238.4 1329.0,239.2M1312.0,261.1L1310.1,263.4 1308.2,265.7 1306.2,268.0 1304.3,270.2 1302.3,272.4 1300.3,274.7 1298.3,276.9 1296.3,279.1 1294.3,281.3 1292.2,283.5 1290.2,285.7 1288.1,287.9 1286.1,290.0 1284.0,292.2 1281.9,294.4 1279.8,296.5 1277.7,298.7 1275.6,300.8 1273.5,303.0 1271.4,305.1 1269.3,307.3 1268.6,308.0M1249.4,327.2L1247.3,329.4 1245.2,331.5 1243.1,333.7 1241.0,335.9 1238.9,338.1 1236.8,340.3 1234.7,342.5 1232.7,344.7 1230.7,346.9 1228.6,349.1 1226.6,351.4 1224.6,353.6 1222.7,355.9 1220.7,358.2 1218.8,360.5 1216.9,362.8 1215.0,365.1 1213.1,367.5 1211.3,369.9 1209.5,372.3 1207.7,374.7 1207.1,375.5M1192.4,398.1L1190.8,400.6 1189.3,403.2 1187.8,405.8 1186.4,408.4 1184.9,411.0 1183.5,413.6 1182.1,416.3 1180.7,418.9 1179.3,421.5 1178.0,424.2 1176.6,426.8 1175.3,429.5 1174.0,432.2 1172.7,434.9 1171.5,437.6 1170.2,440.3 1169.0,443.0 1167.8,445.7 1166.6,448.4 1165.4,451.1 1164.2,453.8M1154.0,479.7L1152.9,482.5 1151.9,485.3 1150.9,488.1 1149.9,490.9 1149.0,493.7 1148.0,496.5 1147.1,499.4 1146.1,502.2 1145.2,505.0 1144.3,507.9 1143.4,510.7 1142.5,513.6 1141.6,516.4 1140.7,519.3 1139.8,522.2 1139.0,525.0 1138.1,527.9 1137.3,530.8 1136.5,533.7 1135.6,536.6 1134.8,539.4M1127.3,567.5L1126.6,570.4 1125.8,573.4 1125.1,576.3 1124.4,579.2 1123.7,582.1 1122.9,585.1 1122.2,588.0 1121.5,590.9 1120.8,593.9 1120.1,596.8 1119.4,599.7 1118.7,602.7 1118.0,605.6 1117.3,608.6 1116.7,611.5 1116.0,614.4 1115.3,617.4 1114.6,620.3 1113.9,623.3 1113.2,626.2 1112.8,628.2M1106.5,655.6L1105.8,658.6 1105.1,661.5 1104.5,664.5 1103.8,667.4 1103.1,670.3 1102.5,673.3 1101.8,676.2 1101.1,679.2 1100.4,682.1 1099.8,685.0 1099.1,688.0 1098.4,690.9 1097.7,693.8 1097.1,696.8 1096.4,699.7 1095.7,702.7 1095.0,705.6 1094.3,708.5 1093.7,711.5 1093.0,714.4 1092.3,717.3M1086.1,743.7L1085.4,746.6 1084.7,749.6 1084.0,752.5 1083.3,755.4 1082.6,758.3 1081.9,761.3 1081.2,764.2 1080.5,767.1 1079.8,770.0 1079.1,772.9 1078.4,775.9 1077.6,778.8 1076.9,781.7 1076.2,784.6 1075.5,787.5 1074.8,790.4 1074.0,793.4 1073.3,796.3 1072.6,799.2 1071.8,802.1 1071.1,805.0M1064.0,832.1L1063.3,835.0 1062.5,837.9 1061.7,840.8 1060.9,843.7 1060.1,846.6 1059.3,849.4 1058.5,852.3 1057.7,855.2 1056.9,858.1 1056.1,861.0 1055.3,863.9 1054.5,866.7 1053.7,869.6 1052.9,872.5 1052.0,875.4 1051.2,878.3 1050.4,881.1 1049.5,884.0 1048.7,886.9 1047.8,889.7 1047.0,892.6 1046.7,893.6M1038.4,920.2L1037.5,923.1 1036.6,925.9 1035.7,928.7 1034.8,931.6 1033.8,934.4 1032.9,937.3 1032.0,940.1 1031.0,942.9 1030.1,945.8 1029.1,948.6 1028.1,951.4 1027.2,954.2 1026.2,957.1 1025.2,959.9 1024.2,962.7 1023.2,965.5 1022.2,968.3 1021.2,971.1 1020.2,974.0 1019.8,974.9M1008.2,1005.6L1007.1,1008.4 1006.0,1011.2 1004.9,1014.0 1003.7,1016.7 1002.6,1019.5 1001.5,1022.3 1000.3,1025.0 999.2,1027.8 998.0,1030.6 996.8,1033.3 995.7,1036.1 994.5,1038.8 993.3,1041.6 992.1,1044.3 990.9,1047.1 989.7,1049.8 988.4,1052.6 987.2,1055.3 986.0,1058.0 984.7,1060.8 983.9,1062.6M970.9,1089.7L969.6,1092.4 968.3,1095.1 967.0,1097.9 965.6,1100.6 964.3,1103.3 963.0,1106.0 961.6,1108.7 960.3,1111.4 959.0,1114.1 957.6,1116.8 956.3,1119.5 955.0,1122.2 953.6,1124.9 952.3,1127.6 951.0,1130.3 949.6,1133.1 948.3,1135.8 947.0,1138.5 945.7,1141.2 944.4,1143.9 944.0,1144.9M931.7,1171.4L930.5,1174.2 929.3,1176.9 928.1,1179.7 926.9,1182.5 925.7,1185.2 924.5,1188.0 923.3,1190.8 922.1,1193.6 920.9,1196.3 919.7,1199.1 918.5,1201.8 917.3,1204.6 916.1,1207.3 914.8,1210.1 913.6,1212.8 912.3,1215.5 911.0,1218.2 909.7,1220.9 908.4,1223.6 907.0,1226.2 906.1,1228.0M892.0,1251.8L890.3,1254.2 888.5,1256.6 886.8,1259.0 884.9,1261.3 883.1,1263.6 881.2,1265.9 879.2,1268.2 877.3,1270.4 875.3,1272.6 873.2,1274.8 871.2,1276.9 869.0,1279.1 866.9,1281.1 864.7,1283.2 862.5,1285.2 860.3,1287.2 858.0,1289.2 855.7,1291.1 853.4,1293.0 851.0,1294.9 848.7,1296.8 847.9,1297.4M825.2,1312.4L822.6,1313.9 819.9,1315.4 817.3,1316.9 814.6,1318.3 811.9,1319.6 809.2,1321.0 806.4,1322.3 803.7,1323.5 800.9,1324.8 798.1,1326.0 795.3,1327.1 792.5,1328.2 789.7,1329.3 786.8,1330.4 784.0,1331.4 781.1,1332.4 778.3,1333.3 775.4,1334.2 772.5,1335.1 769.6,1335.9 767.7,1336.4M740.3,1342.1L737.4,1342.6 734.4,1343.0 731.4,1343.4 728.4,1343.8 725.5,1344.2 722.5,1344.5 719.5,1344.8 716.5,1345.1 713.5,1345.4 710.5,1345.6 707.6,1345.9 704.6,1346.1 701.6,1346.3 698.6,1346.5 695.6,1346.7 692.6,1346.9 689.6,1347.1 686.6,1347.3 683.5,1347.4 680.5,1347.6 677.5,1347.8 676.5,1347.8M650.5,1349.1L647.5,1349.2 644.5,1349.3 641.5,1349.5 638.5,1349.6 635.5,1349.7 632.5,1349.9 629.5,1350.0 626.5,1350.1 623.5,1350.2 620.5,1350.4 617.5,1350.5 614.5,1350.6 611.5,1350.7 608.5,1350.9 605.5,1351.0 602.5,1351.1 599.5,1351.2 596.5,1351.3 593.5,1351.4 590.5,1351.5 587.5,1351.7 584.5,1351.8M556.6,1352.8L553.6,1352.9 550.6,1353.0 547.6,1353.1 544.6,1353.2 541.6,1353.3 538.6,1353.4 535.6,1353.5 532.6,1353.6 529.6,1353.7 526.6,1353.9 523.6,1354.0 520.6,1354.1 517.6,1354.2 514.6,1354.3 511.6,1354.4 508.6,1354.5 505.6,1354.6 502.6,1354.7 499.6,1354.8 496.6,1354.9 495.6,1355.0M467.7,1356.0L464.7,1356.2 461.7,1356.3 458.7,1356.4 455.7,1356.5 452.7,1356.6 449.7,1356.8 446.7,1356.9 443.7,1357.0 440.7,1357.1 437.7,1357.3 434.7,1357.4 431.7,1357.5 428.7,1357.7 425.7,1357.8 422.7,1357.9 419.7,1358.1 416.7,1358.2 413.7,1358.4 410.7,1358.5 407.7,1358.6 404.7,1358.8M376.8,1360.2L373.8,1360.4 370.8,1360.5 367.8,1360.7 364.8,1360.9 361.8,1361.0 358.8,1361.2 355.8,1361.4 352.8,1361.6 349.8,1361.7 346.8,1361.9 343.8,1362.1 340.8,1362.3 337.9,1362.5 334.9,1362.7 331.9,1362.9 328.9,1363.1 325.9,1363.2 322.9,1363.4 319.9,1363.6 316.9,1363.8 313.9,1364.0M287.1,1366.0L284.1,1366.2 281.1,1366.4 278.2,1366.7 275.2,1366.9 272.2,1367.2 269.2,1367.4 266.3,1367.6 263.3,1367.9 260.3,1368.1 257.3,1368.4 254.4,1368.6" fill="none" stroke="#000" stroke-width="6.5" stroke-linecap="butt" stroke-linejoin="round"/>
<line x1="1167.5" y1="370" x2="1243" y2="415.5" stroke="#000" stroke-width="2.2"/>
</svg>
</body></html>
